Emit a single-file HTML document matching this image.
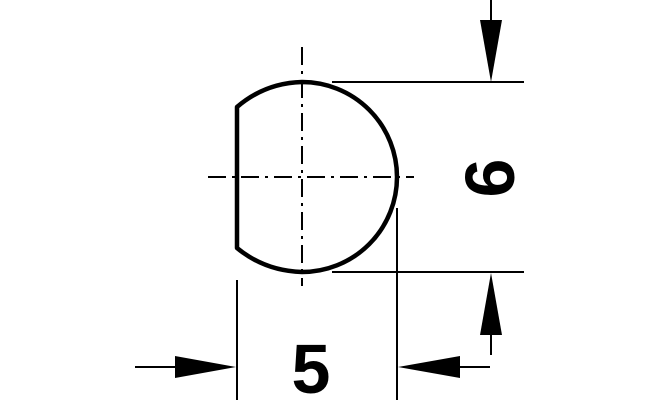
<!DOCTYPE html>
<html><head><style>body{margin:0;background:#fff}svg{display:block}</style></head><body>
<svg width="659" height="400" viewBox="0 0 659 400" xmlns="http://www.w3.org/2000/svg">
<rect width="659" height="400" fill="#fff"/>
<g stroke="#000" stroke-width="2" fill="none">
<line x1="208" y1="177" x2="414" y2="177" stroke-dasharray="18,6,3,6"/>
<line x1="302" y1="47" x2="302" y2="286" stroke-dasharray="18,6,3,6"/>
</g>
<path d="M237 107 Q265 83 302 82 A95 95 0 0 1 302 272 Q265 271 237 248 Z" fill="none" stroke="#000" stroke-width="4.5" stroke-linejoin="round"/>
<g stroke="#000" stroke-width="2">
<line x1="332" y1="82" x2="524" y2="82"/>
<line x1="332" y1="272" x2="524" y2="272"/>
<line x1="491" y1="0" x2="491" y2="22"/>
<line x1="491" y1="330" x2="491" y2="355"/>
<line x1="237" y1="280" x2="237" y2="400"/>
<line x1="397" y1="208" x2="397" y2="400"/>
<line x1="135" y1="367" x2="180" y2="367"/>
<line x1="455" y1="367" x2="490" y2="367"/>
</g>
<g fill="#000">
<polygon points="480,20 502,20 491,82"/>
<polygon points="480,335 502,335 491,273"/>
<polygon points="175,356 175,378 236,367"/>
<polygon points="460,356 460,378 398,367"/>
</g>
<text x="311" y="393" font-family="Liberation Sans, sans-serif" font-weight="bold" font-size="70" text-anchor="middle">5</text>
<text transform="translate(489,178) rotate(-90)" x="0" y="25" font-family="Liberation Sans, sans-serif" font-weight="bold" font-size="70" text-anchor="middle">6</text>
</svg>
</body></html>
